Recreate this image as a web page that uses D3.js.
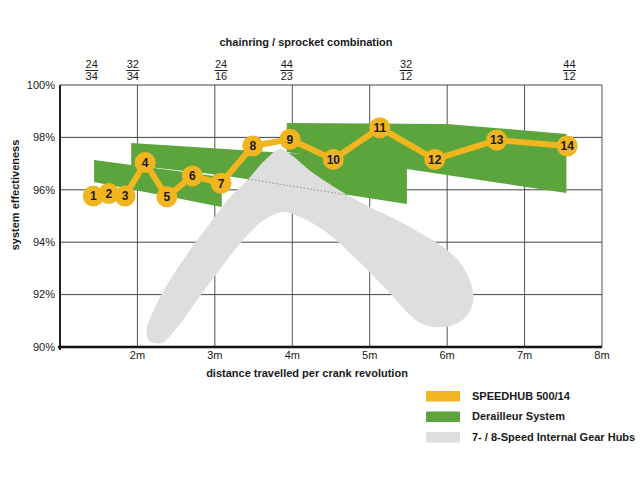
<!DOCTYPE html>
<html>
<head>
<meta charset="utf-8">
<script src="https://cdn.jsdelivr.net/npm/d3@7"></script>
<style>
  body { margin: 0; background: #fff; }
  text { font-family: "Liberation Sans", Arial, sans-serif; fill: #1a1a1a; }
</style>
</head>
<body>
<div id="chart"></div>
<script>
// SPEEDHUB gears: distance per crank revolution (m) and efficiency (%)
var gearNo = [1, 2, 3, 4, 5, 6, 7, 8, 9, 10, 11, 12, 13, 14];
var gearDist = [1.43, 1.63, 1.84, 2.10, 2.38, 2.71, 3.08, 3.49, 3.97, 4.53, 5.13, 5.84, 6.64, 7.55];
var gearEff = [95.76, 95.86, 95.76, 97.04, 95.73, 96.53, 96.25, 97.67, 97.93, 97.16, 98.37, 97.16, 97.90, 97.67];

// derailleur bands, one per chainring: [distance, efficiency]
var bandTops = [
  [[1.44, 97.14], [3.09, 96.49]],
  [[1.92, 97.79], [3.93, 97.40], [5.48, 97.21]],
  [[3.93, 98.55], [6.00, 98.51], [7.54, 98.13]]
];
var bandBottoms = [
  [[1.44, 96.30], [3.09, 95.34]],
  [[1.92, 96.95], [3.09, 96.56], [5.48, 95.46]],
  [[3.93, 97.44], [5.48, 96.79], [7.54, 95.88]]
];
// hidden edge of the middle band, showing through the hub area
var hiddenEdge = [[3.43, 96.41], [4.71, 95.80]];

// outline of the 7-/8-speed hub area
var hubOutline = [
  [3.84, 97.56], [3.65, 97.14], [3.43, 96.41], [3.20, 95.73], [2.94, 94.73],
  [2.68, 93.70], [2.42, 92.56], [2.23, 91.53], [2.12, 90.65], [2.14, 90.27],
  [2.23, 90.15], [2.32, 90.15], [2.42, 90.42], [2.58, 90.99], [2.77, 91.79],
  [3.03, 92.82], [3.33, 93.97], [3.58, 94.73], [3.75, 95.04], [3.88, 95.15],
  [4.04, 95.04], [4.40, 94.47], [4.84, 93.32], [5.26, 92.06], [5.52, 91.22],
  [5.68, 90.88], [5.95, 90.76], [6.14, 90.92], [6.27, 91.26], [6.34, 91.87],
  [6.30, 92.48], [6.17, 93.21], [5.95, 93.82], [5.74, 94.20], [5.35, 94.85],
  [5.00, 95.34], [4.71, 95.80], [4.27, 96.64], [3.97, 97.37]
];

// axis ticks
var xTicks = [2, 3, 4, 5, 6, 7, 8];
var xGrid = [1, 2, 3, 4, 5, 6, 7, 8];
var yTicks = [90, 92, 94, 96, 98, 100];

// chainring / sprocket labels along the top
var comboNum = ["24", "32", "24", "44", "32", "44"];
var comboDen = ["34", "34", "16", "23", "12", "12"];
var comboDist = [1.41, 1.94, 3.08, 3.93, 5.47, 7.58];

var legendNames = ["SPEEDHUB 500/14", "Derailleur System", "7- / 8-Speed Internal Gear Hubs"];

var gold = "#f0b51f";
var green = "#5ca53d";
var grey = "#dedede";
var legendColors = [gold, green, grey];

// Chart Params
var svgWidth = 640;
var svgHeight = 480;

var svg = d3.select("#chart")
  .append("svg")
  .attr("width", svgWidth)
  .attr("height", svgHeight);

var xScale = d3.scaleLinear().domain([1, 8]).range([60, 602]);
var yScale = d3.scaleLinear().domain([90, 100]).range([347, 85]);

// grid
var grid = svg.append("g");
grid.selectAll("line.v").data(xGrid).enter()
  .append("line")
  .attr("x1", d => xScale(d)).attr("x2", d => xScale(d))
  .attr("y1", yScale(100)).attr("y2", yScale(90))
  .attr("stroke", "#555").attr("stroke-width", 1);
grid.selectAll("line.h").data(yTicks).enter()
  .append("line")
  .attr("x1", xScale(1)).attr("x2", xScale(8))
  .attr("y1", d => yScale(d)).attr("y2", d => yScale(d))
  .attr("stroke", "#444").attr("stroke-width", 1);

// derailleur bands
var bands = bandTops.map((t, i) => t.concat(bandBottoms[i].slice().reverse()));
var polyLine = d3.line().x(d => xScale(d[0])).y(d => yScale(d[1]));

svg.append("g").selectAll("path").data(bands).enter()
  .append("path")
  .attr("d", d => polyLine(d) + "Z")
  .attr("fill", green);

// hub area
var hubLine = d3.line()
  .x(d => xScale(d[0])).y(d => yScale(d[1]))
  .curve(d3.curveCatmullRomClosed.alpha(0.5));

svg.append("path")
  .attr("d", hubLine(hubOutline))
  .attr("fill", grey);

svg.append("path")
  .attr("d", polyLine(hiddenEdge))
  .attr("fill", "none")
  .attr("stroke", "#777")
  .attr("stroke-width", 0.8)
  .attr("stroke-dasharray", "1.5,2");

// bold axes
svg.append("line")
  .attr("x1", xScale(1)).attr("x2", xScale(1))
  .attr("y1", yScale(100)).attr("y2", yScale(90) + 3)
  .attr("stroke", "#222").attr("stroke-width", 2);
svg.append("line")
  .attr("x1", xScale(1) - 2).attr("x2", xScale(8))
  .attr("y1", yScale(90)).attr("y2", yScale(90))
  .attr("stroke", "#111").attr("stroke-width", 2.5);

// y tick labels
svg.append("g").selectAll("text").data(yTicks).enter()
  .append("text")
  .attr("x", 55)
  .attr("y", d => yScale(d))
  .attr("dy", "0.35em")
  .attr("text-anchor", "end")
  .style("font-size", "11px")
  .text(d => d + "%");

// x tick labels
svg.append("g").selectAll("text").data(xTicks).enter()
  .append("text")
  .attr("x", d => xScale(d))
  .attr("y", 355)
  .attr("dy", "0.35em")
  .attr("text-anchor", "middle")
  .style("font-size", "11px")
  .text(d => d + "m");

// axis titles
svg.append("text")
  .attr("x", 307).attr("y", 373)
  .attr("dy", "0.35em")
  .attr("text-anchor", "middle")
  .style("font-size", "11px").style("font-weight", "bold")
  .text("distance travelled per crank revolution");

svg.append("text")
  .attr("transform", "translate(15, 195) rotate(-90)")
  .attr("dy", "0.35em")
  .attr("text-anchor", "middle")
  .style("font-size", "11px").style("font-weight", "bold")
  .text("system effectiveness");

svg.append("text")
  .attr("x", 306).attr("y", 42)
  .attr("dy", "0.35em")
  .attr("text-anchor", "middle")
  .style("font-size", "11px").style("font-weight", "bold")
  .text("chainring / sprocket combination");

// top fractions
var combos = svg.append("g").selectAll("g").data(comboDist).enter()
  .append("g")
  .attr("transform", d => `translate(${xScale(d)}, 0)`);
combos.append("text")
  .attr("y", 64).attr("dy", "0.35em")
  .attr("text-anchor", "middle")
  .style("font-size", "11px")
  .text((d, i) => comboNum[i]);
combos.append("line")
  .attr("x1", -6.5).attr("x2", 6.5)
  .attr("y1", 70.5).attr("y2", 70.5)
  .attr("stroke", "#222").attr("stroke-width", 1);
combos.append("text")
  .attr("y", 76).attr("dy", "0.35em")
  .attr("text-anchor", "middle")
  .style("font-size", "11px")
  .text((d, i) => comboDen[i]);

// SPEEDHUB line and gear circles
var gears = gearNo.map((n, i) => ({ n: n, x: gearDist[i], y: gearEff[i] }));

svg.append("path")
  .attr("d", d3.line().x(d => xScale(d.x)).y(d => yScale(d.y))(gears))
  .attr("fill", "none")
  .attr("stroke", gold)
  .attr("stroke-width", 6)
  .attr("stroke-linejoin", "round");

var gearGroup = svg.append("g").selectAll("g").data(gears).enter()
  .append("g")
  .attr("transform", d => `translate(${xScale(d.x)}, ${yScale(d.y)})`);
gearGroup.append("circle")
  .attr("r", 10.5)
  .attr("fill", gold);
gearGroup.append("text")
  .attr("dy", "0.36em")
  .attr("text-anchor", "middle")
  .style("font-size", "12px").style("font-weight", "bold")
  .text(d => d.n);

// legend
var legend = svg.append("g").selectAll("g").data(legendNames).enter()
  .append("g")
  .attr("transform", (d, i) => `translate(426, ${391 + i * 20.5})`);
legend.append("rect")
  .attr("width", 34).attr("height", 10.5)
  .attr("fill", (d, i) => legendColors[i]);
legend.append("text")
  .attr("x", 46).attr("y", 5)
  .attr("dy", "0.35em")
  .style("font-size", "11px").style("font-weight", "bold")
  .text(d => d);
</script>
</body>
</html>
